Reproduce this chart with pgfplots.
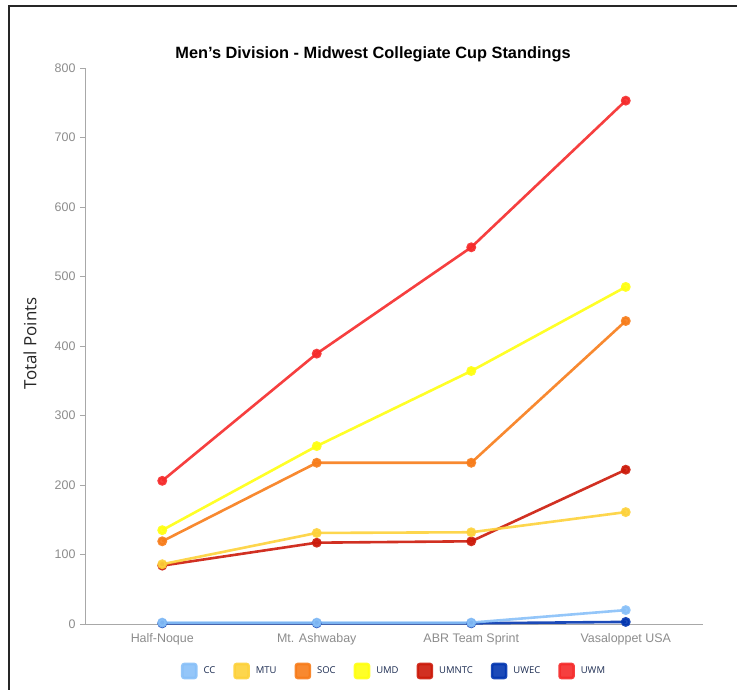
\documentclass[border=0pt]{standalone}
\usepackage{fontspec}
\setmainfont{Liberation Sans}
\newfontfamily\opensans{Open Sans}
\usepackage{pgfplots}
\pgfplotsset{compat=1.18}
\definecolor{cCC}{HTML}{88C0F8}
\definecolor{cMTU}{HTML}{FDD13A}
\definecolor{cSOC}{HTML}{F77C1A}
\definecolor{cUMD}{HTML}{FFFF10}
\definecolor{cUMNTC}{HTML}{CC1A0A}
\definecolor{cUWEC}{HTML}{0336B0}
\definecolor{cUWM}{HTML}{F52A2A}
\definecolor{axgray}{HTML}{A8A8A8}
\definecolor{tickgray}{HTML}{8C8C8C}
\definecolor{legtext}{HTML}{1A2A50}
\begin{document}
\begin{tikzpicture}
\begin{axis}[
  scale only axis, width=618bp, height=556bp,
  xmin=-0.5, xmax=3.5, ymin=0, ymax=800,
  xtick={0,1,2,3},
  xticklabels={Half-Noque, Mt. Ashwabay, ABR Team Sprint, Vasaloppet USA},
  ytick={0,100,...,800},
  axis x line*=bottom, axis y line*=left,
  axis line style={axgray, line width=0.9bp},
  x axis line style={-}, y axis line style={-},
  major tick length=5bp,
  xtick style={draw=none},
  ytick style={axgray, line width=0.9bp},
  tick align=outside,
  every tick label/.append style={font=\fontsize{12.5}{14}\selectfont, text=tickgray},
  /pgf/number format/assume math mode=true,
  xticklabel style={yshift=-1bp},
  yticklabel style={xshift=-1bp},
  ylabel={Total Points},
  ylabel style={font=\opensans\fontsize{17}{20}\selectfont, text=black!85, at={(axis description cs:-0.089,0.505)}, anchor=center},
  title={\textbf{Men's Division - Midwest Collegiate Cup Standings}},
  title style={font=\fontsize{16.4}{18}\selectfont, at={(axis description cs:0.466,1)}, anchor=south, yshift=-3bp},
  legend columns=7,
  legend style={at={(axis description cs:0.5,0)}, anchor=center, yshift=-47bp, draw=none, fill=none,
    font=\opensans\fontsize{9.5}{11}\selectfont, text=legtext,
    /tikz/every even column/.append style={column sep=16bp}},
  legend image code/.code={\fill[#1, rounded corners=2bp] (0bp,-7bp) rectangle (14bp,7bp); \path (18bp,0bp);},
  every axis plot/.append style={line width=2.6bp, mark=*, mark size=3.6bp, opacity=0.9},
  clip=false,
]
% UWEC drawn first (below CC)
\addplot[cUWEC, mark options={fill=cUWEC}, forget plot] coordinates {(0,1) (1,1) (2,1) (3,3)};
\addplot[cUWM, mark options={fill=cUWM}, forget plot] coordinates {(0,206) (1,389) (2,542) (3,753)};
\addplot[cUMNTC, mark options={fill=cUMNTC}, forget plot] coordinates {(0,84) (1,117) (2,119) (3,222)};
\addplot[cUMD, mark options={fill=cUMD}, forget plot] coordinates {(0,135) (1,256) (2,364) (3,485)};
\addplot[cSOC, mark options={fill=cSOC}, forget plot] coordinates {(0,119) (1,232) (2,232) (3,436)};
\addplot[cMTU, mark options={fill=cMTU}, forget plot] coordinates {(0,86) (1,131) (2,132) (3,161)};
\addplot[cCC, mark options={fill=cCC}, forget plot] coordinates {(0,2) (1,2) (2,2) (3,20)};
\addlegendimage{cCC}\addlegendentry{CC}
\addlegendimage{cMTU}\addlegendentry{MTU}
\addlegendimage{cSOC}\addlegendentry{SOC}
\addlegendimage{cUMD}\addlegendentry{UMD}
\addlegendimage{cUMNTC}\addlegendentry{UMNTC}
\addlegendimage{cUWEC}\addlegendentry{UWEC}
\addlegendimage{cUWM}\addlegendentry{UWM}
\end{axis}
\begin{scope}[x=1bp,y=1bp]
\draw[line width=1.2bp, black!85] (-76,-70) -- (-76,618) -- (660,618);
\pgfresetboundingbox
\path[use as bounding box] (-85,-66) rectangle (652,624);
\end{scope}
\end{tikzpicture}
\end{document}
